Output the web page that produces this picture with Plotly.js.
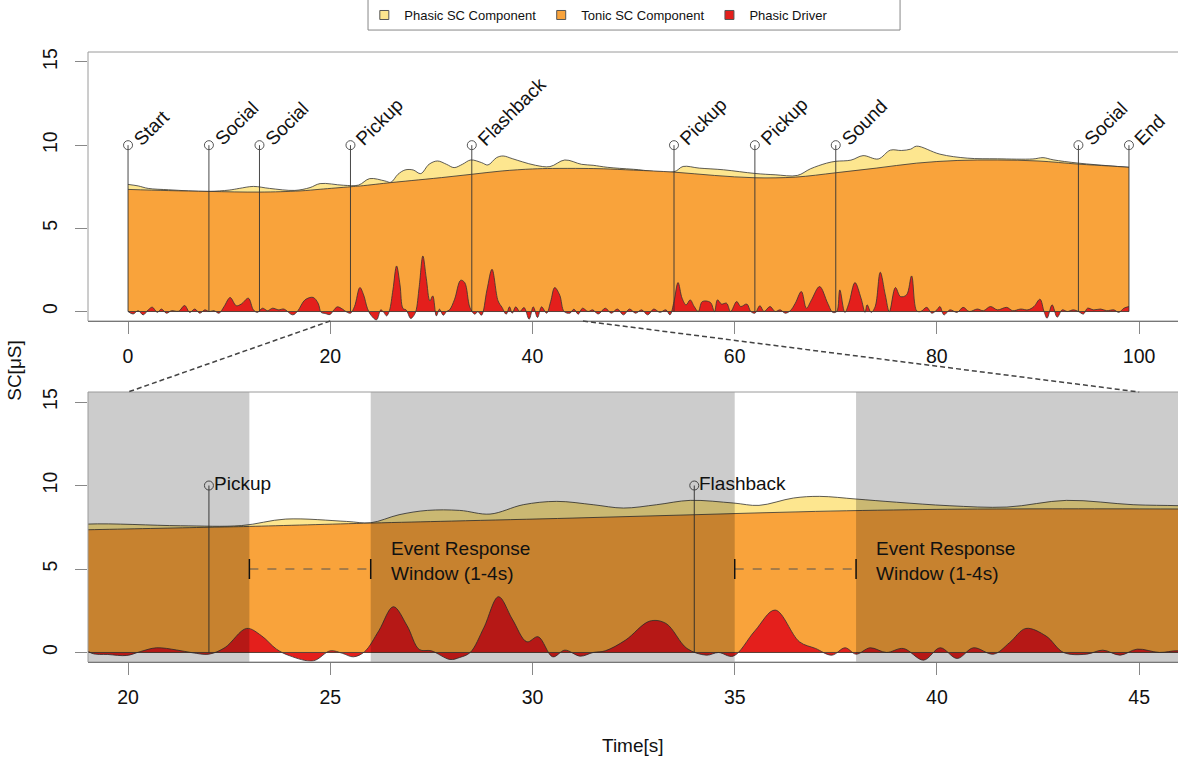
<!DOCTYPE html>
<html><head><meta charset="utf-8">
<script src="https://cdn.plot.ly/plotly-3.0.1.min.js"></script>
<style>html,body{margin:0;padding:0;background:#fff;overflow:hidden}</style>
</head><body><div id="chart" style="width:1178px;height:761px"></div>
<script>
// ---------------- DATA ----------------
const tonicT = [0, 4, 8, 13, 17, 19, 22, 23, 26, 28, 31, 34, 37, 40, 42, 45, 47, 50, 54, 58, 62, 66, 70, 74, 78, 82, 86, 90, 94, 97, 99];
const tonicV = [7.34, 7.27, 7.22, 7.18, 7.25, 7.35, 7.5, 7.55, 7.75, 7.87, 8.05, 8.25, 8.45, 8.57, 8.6, 8.6, 8.58, 8.5, 8.38, 8.18, 8.04, 8.08, 8.34, 8.62, 8.92, 9.08, 9.11, 9.05, 8.86, 8.75, 8.67];

const scT = [0, 1, 2, 4, 6, 8, 10, 11, 12.4, 14, 16.5, 18, 19, 21.3, 22.8, 23.9, 25.4, 26, 26.7, 27.4, 28.2, 28.95, 29.77, 30.6, 31.5, 32.25, 33.07, 33.9, 34.97, 35.6, 36.45, 37.1, 38, 39, 40.3, 41.73, 43.2, 44.85, 46, 47.4, 50, 54, 54.9, 56.5, 58.9, 62, 64, 66.2, 67.5, 69.1, 70, 71.5, 72.7, 74.2, 75.4, 76.5, 77.4, 78, 80.3, 83, 86, 89.5, 90.5, 91.5, 94, 99];
const scV = [7.64, 7.55, 7.4, 7.32, 7.25, 7.22, 7.3, 7.4, 7.52, 7.4, 7.28, 7.45, 7.69, 7.59, 7.6, 7.99, 7.85, 7.77, 8.25, 8.51, 8.51, 8.29, 8.85, 9.05, 8.85, 8.65, 8.85, 9.11, 8.95, 8.81, 9.25, 9.35, 9.19, 9.0, 8.79, 8.71, 9.11, 8.85, 8.79, 8.67, 8.55, 8.4, 8.72, 8.62, 8.52, 8.3, 8.22, 8.18, 8.58, 8.92, 9.03, 9.1, 9.37, 9.17, 9.7, 9.68, 9.76, 9.94, 9.46, 9.22, 9.18, 9.17, 9.25, 9.12, 8.92, 8.67];

const driverT = [0, 0.5, 1, 1.5, 2, 2.4, 2.9, 3.3, 3.8, 4.3, 5, 5.6, 6.1, 6.6, 7.1, 7.6, 8, 8.5, 9, 9.5, 10.1, 10.7, 11.2, 11.9, 12.4, 12.8, 13.3, 13.8, 14.3, 14.9, 15.4, 16.3, 16.8, 17.5, 18.3, 18.8, 19.1, 19.5, 19.97, 20.3, 20.7, 21.2, 21.6, 22, 22.4, 22.93, 23.3, 23.67, 24, 24.58, 25, 25.3, 25.57, 25.85, 26.2, 26.56, 26.9, 27.2, 27.5, 27.96, 28.2, 28.46, 28.8, 29.16, 29.5, 29.86, 30.14, 30.5, 30.8, 31.18, 31.5, 31.8, 32.3, 32.9, 33.3, 33.82, 34.3, 34.6, 34.96, 35.5, 36, 36.6, 37, 37.4, 37.73, 38, 38.35, 38.75, 39.17, 39.67, 40.08, 40.5, 40.9, 41.4, 41.8, 42.2, 42.7, 43.13, 43.7, 44.1, 44.53, 44.95, 45.5, 45.96, 46.5, 47.2, 47.8, 48.4, 49, 49.6, 50.2, 50.8, 51.4, 52, 52.6, 53.2, 53.6, 54, 54.4, 54.8, 55.2, 55.6, 56, 56.4, 56.8, 57.6, 58, 58.3, 58.7, 59.2, 59.6, 60.2, 60.6, 61.2, 61.6, 62, 62.5, 62.9, 63.5, 64, 64.5, 65, 65.5, 66, 66.6, 67.1, 67.6, 68.4, 69.2, 69.7, 70.1, 70.4, 70.9, 71.3, 71.9, 72.5, 72.9, 73.1, 73.5, 73.9, 74.4, 74.9, 75.3, 75.9, 76.4, 77, 77.5, 78, 78.4, 79, 79.5, 80, 80.3, 80.7, 81.3, 82, 82.6, 83.2, 84, 84.6, 85.3, 86, 86.9, 87.5, 88.3, 89, 89.6, 90.2, 90.6, 90.9, 91.4, 91.9, 92.4, 92.9, 93.5, 94, 94.5, 94.9, 95.5, 96.2, 96.8, 97.5, 98, 98.5, 99];
const driverV = [0, -0.15, 0.05, -0.2, 0.1, 0.26, -0.05, 0.15, -0.1, 0.05, 0.02, 0.36, -0.05, 0.15, -0.1, 0.1, 0, 0.05, -0.1, 0.3, 0.84, 0.35, 0.45, 0.8, 0.1, -0.05, 0.2, 0.05, 0.2, 0.1, 0.15, -0.2, 0.05, 0.7, 0.85, 0.5, -0.05, -0.12, -0.18, 0.05, 0.28, 0.15, -0.02, -0.1, 0.3, 1.44, 1.0, 0.2, -0.2, -0.5, 0.1, -0.05, -0.26, 0.05, 1.3, 2.74, 1.6, 0.18, 0.1, -0.42, -0.3, 0, 1.5, 3.34, 2.0, 0.64, 0.94, -0.26, 0.14, -0.22, 0, 0.1, 0.74, 1.88, 1.74, 0.24, -0.16, 0, -0.22, 1.3, 2.54, 0.64, 0.24, -0.16, 0.28, -0.1, 0.28, 0, 0.24, -0.46, 0.28, -0.36, 0.28, -0.1, 0.6, 1.44, 0.98, 0, -0.1, 0.14, -0.16, 0.2, 0, 0.1, -0.15, 0.2, -0.1, 0.15, -0.2, 0.15, -0.1, 0.1, -0.2, 0.15, -0.05, 0.1, -0.2, 0.6, 1.74, 0.8, 0.4, 0.7, 0.3, 0, 0.6, 0.55, 0, 0.7, 0.45, 0.5, 0, 0.6, 0.3, 0.45, 0, -0.1, 0.35, 0, 0.3, 0, 0.1, -0.1, 0.05, 0.5, 1.2, 0.2, 0.7, 1.5, 0.5, -0.05, 0, 1.3, -0.05, 0.5, 1.74, 0.8, -0.05, 0.4, -0.05, 0.3, 2.36, 1.0, 0, 1.44, 0.9, 1.0, 2.14, 0.05, 0, 0.25, -0.1, 0.1, 0.3, -0.2, 0.1, -0.05, 0.25, 0, 0.15, 0.05, 0.3, 0.1, 0.25, 0.05, 0.15, 0.1, 0.3, 0.74, 0, -0.4, 0.4, -0.34, 0.1, 0, 0.1, 0, -0.15, 0.2, 0.1, 0.15, 0.05, 0.1, -0.05, 0.2, 0.3];

const eventTimes  = [0, 8, 13, 22, 34, 54, 62, 70, 94, 99];
const eventLabels = ['Start', 'Social', 'Social', 'Pickup', 'Flashback', 'Pickup', 'Pickup', 'Sound', 'Social', 'End'];
const eventLevel = 10;
const responseWindow = [1, 4];
const windowText = 'Event Response<br>Window (1-4s)';

const topTicks = [0, 20, 40, 60, 80, 100];
const bottomTicks = [20, 25, 30, 35, 40, 45];
const yTicks = [0, 5, 10, 15];
const legendNames = ['Phasic SC Component', 'Tonic SC Component', 'Phasic Driver'];

// ---------------- STYLE ----------------
const FONT = 'Liberation Sans, Arial, Helvetica, sans-serif';
const COL = { phasic: '#FDE68F', tonic: '#F9A33B', driver: '#E41F1C', outline: '#333333' };
const topRange = [-3.96, 103.85];
const zoomRange = [19.01, 45.96];
const yRange = [-0.57, 15.6];
const topDom = [0.559, 1];
const botDom = [0, 0.4426];

function area(t, v, color, xa, ya) {
  return { x: t, y: v, xaxis: xa, yaxis: ya, type: 'scatter', mode: 'lines', fill: 'tozeroy',
    fillcolor: color, line: { color: COL.outline, width: 0.8, shape: 'spline', smoothing: 1 },
    hoverinfo: 'skip', showlegend: false };
}

const lineX = [], lineY = [];
eventTimes.forEach(t => { lineX.push(t, t, null); lineY.push(0, eventLevel, null); });
const tStart = tonicT[0], tEnd = tonicT[tonicT.length - 1];

const traces = [];
[['x', 'y'], ['x2', 'y2']].forEach(([xa, ya]) => {
  traces.push(area(scT, scV, COL.phasic, xa, ya));
  traces.push(area(tonicT, tonicV, COL.tonic, xa, ya));
  traces.push(area(driverT, driverV, COL.driver, xa, ya));
  traces.push({ x: [tStart, tEnd], y: [0, 0], xaxis: xa, yaxis: ya, mode: 'lines',
    line: { color: COL.outline, width: 0.8 }, hoverinfo: 'skip', showlegend: false });
  traces.push({ x: lineX, y: lineY, xaxis: xa, yaxis: ya, mode: 'lines',
    line: { color: '#333', width: 0.9 }, hoverinfo: 'skip', showlegend: false });
  traces.push({ x: eventTimes, y: eventTimes.map(() => eventLevel), xaxis: xa, yaxis: ya, mode: 'markers',
    marker: { symbol: 'circle-open', size: 9, color: '#555', line: { width: 1, color: '#555' } },
    hoverinfo: 'skip', showlegend: false });
});
// legend entries
[COL.phasic, COL.tonic, COL.driver].forEach((c, i) => {
  traces.push({ x: [null], y: [null], xaxis: 'x', yaxis: 'y', mode: 'markers', name: legendNames[i],
    marker: { symbol: 'square', size: 9, color: c, line: { color: '#555', width: 1 } }, showlegend: true });
});

// ---------------- SHAPES & ANNOTATIONS ----------------
const shapes = [];
const annotations = [];

// event labels (top, rotated)
eventTimes.forEach((t, i) => {
  annotations.push({ x: t, y: eventLevel, xref: 'x', yref: 'y', text: eventLabels[i], textangle: -45,
    xanchor: 'left', yanchor: 'bottom', showarrow: false, xshift: -1, yshift: -7,
    font: { family: FONT, size: 19, color: '#111' } });
});

// zoom panel windows
const inZoom = eventTimes.map((t, i) => i).filter(i => eventTimes[i] > zoomRange[0] && eventTimes[i] < zoomRange[1]);
let grayStart = zoomRange[0];
inZoom.forEach(i => {
  const t = eventTimes[i];
  const w0 = t + responseWindow[0], w1 = t + responseWindow[1];
  shapes.push({ type: 'rect', xref: 'x2', yref: 'y2 domain', x0: grayStart, x1: w0, y0: 0, y1: 1,
    fillcolor: 'rgba(0,0,0,0.2)', line: { width: 0 }, layer: 'above' });
  grayStart = w1;
  shapes.push({ type: 'line', xref: 'x2', yref: 'y2', x0: w0, x1: w1, y0: 5, y1: 5,
    line: { color: '#555', width: 1, dash: 'dash' }, layer: 'above' });
  [w0, w1].forEach(w => shapes.push({ type: 'line', xref: 'x2', yref: 'y2', x0: w, x1: w, y0: 4.4, y1: 5.6,
    line: { color: '#111', width: 1.5 }, layer: 'above' }));
  annotations.push({ x: w1 + 0.5, y: 5.5, xref: 'x2', yref: 'y2', text: windowText, align: 'left',
    xanchor: 'left', yanchor: 'middle', showarrow: false, xshift: -2, font: { family: FONT, size: 19, color: '#111' } });
  annotations.push({ x: t, y: eventLevel, xref: 'x2', yref: 'y2', text: eventLabels[i],
    xanchor: 'left', yanchor: 'middle', showarrow: false, xshift: 3, yshift: 2,
    font: { family: FONT, size: 19, color: '#111' } });
});
shapes.push({ type: 'rect', xref: 'x2', yref: 'y2 domain', x0: grayStart, x1: zoomRange[1], y0: 0, y1: 1,
  fillcolor: 'rgba(0,0,0,0.2)', line: { width: 0 }, layer: 'above' });

// panel boxes
[['x domain', 'y domain'], ['x2 domain', 'y2 domain']].forEach(([xr, yr]) => {
  shapes.push({ type: 'rect', xref: xr, yref: yr, x0: 0, x1: 1.01, y0: 0, y1: 1,
    line: { color: '#9a9a9a', width: 1 }, fillcolor: 'rgba(0,0,0,0)', layer: 'above' });
});

// connectors between panels
const pTop = v => (v - topRange[0]) / (topRange[1] - topRange[0]);
const pBot = v => (v - zoomRange[0]) / (zoomRange[1] - zoomRange[0]);
[bottomTicks[0], bottomTicks[bottomTicks.length - 1]].forEach(v => {
  shapes.push({ type: 'line', xref: 'paper', yref: 'paper', x0: pTop(v), y0: topDom[0], x1: pBot(v), y1: botDom[1],
    line: { color: '#444', width: 1.5, dash: '5px,3px' } });
});

// legend box
shapes.push({ type: 'rect', xref: 'paper', yref: 'paper', x0: 0.2569, x1: 0.745, y0: 1.036, y1: 1.1,
  line: { color: '#888', width: 1 }, fillcolor: 'rgba(0,0,0,0)' });

// axis titles
annotations.push({ text: 'SC[μS]', xref: 'paper', yref: 'paper', x: -0.067, y: 0.479, textangle: -90,
  showarrow: false, xanchor: 'center', yanchor: 'middle', font: { family: FONT, size: 19, color: '#111' } });
annotations.push({ text: 'Time[s]', xref: 'paper', yref: 'paper', x: 0.5, y: -0.1377,
  showarrow: false, xanchor: 'center', yanchor: 'middle', font: { family: FONT, size: 19, color: '#111' } });

const xCommon = { ticks: 'outside', ticklen: 12, tickcolor: '#888', tickwidth: 1, showline: true, linecolor: '#555',
  linewidth: 1, showgrid: false, zeroline: false, tickfont: { family: FONT, size: 19.5, color: '#111' }, ticklabelstandoff: 6 };
const yCommon = { ticks: 'outside', ticklen: 12, tickcolor: '#888', tickwidth: 1, showline: false, showgrid: false,
  zeroline: false, tickangle: -90, tickvals: yTicks, range: yRange, tickfont: { family: FONT, size: 19.5, color: '#111' }, ticklabelstandoff: 10 };

const layout = {
  width: 1178, height: 761,
  margin: { l: 88, r: 0, t: 52, b: 99, autoexpand: false },
  paper_bgcolor: '#fff', plot_bgcolor: '#fff',
  font: { family: FONT, size: 19, color: '#111' },
  showlegend: true,
  legend: { orientation: 'h', x: 0.2535, xanchor: 'left', y: 1.036, yanchor: 'bottom', bgcolor: 'rgba(0,0,0,0)',
    borderwidth: 0, font: { family: FONT, size: 13, color: '#111' } },
  xaxis: Object.assign({}, xCommon, { domain: [0, 1], range: topRange, tickvals: topTicks, anchor: 'y' }),
  yaxis: Object.assign({}, yCommon, { domain: topDom, anchor: 'x' }),
  xaxis2: Object.assign({}, xCommon, { domain: [0, 1], range: zoomRange, tickvals: bottomTicks, anchor: 'y2' }),
  yaxis2: Object.assign({}, yCommon, { domain: botDom, anchor: 'x2' }),
  shapes: shapes,
  annotations: annotations
};

Plotly.newPlot('chart', traces, layout, { displayModeBar: false, staticPlot: true });
</script>
</body></html>
